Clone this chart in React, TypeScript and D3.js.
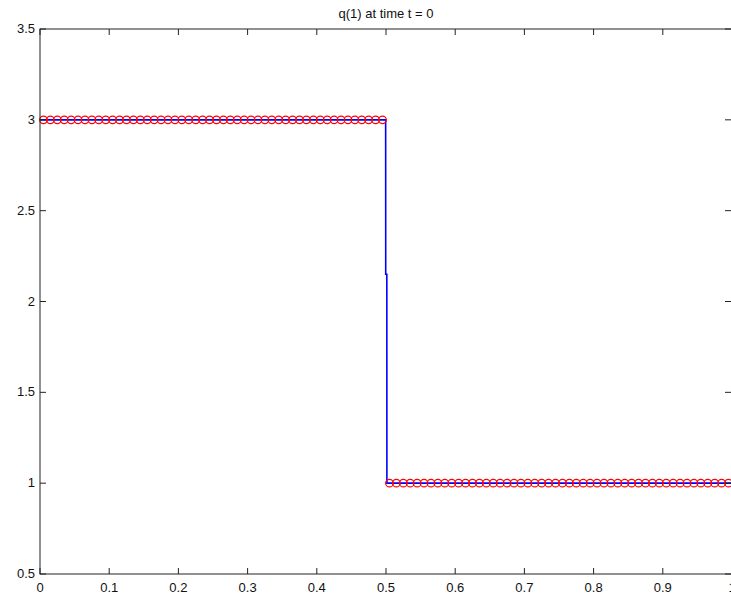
import React from "react";
import * as d3 from "d3";

// Cell-average values q(1) at t = 0 (100 cells on [0,1])
const qValues: number[] = [
  3, 3, 3, 3, 3, 3, 3, 3, 3, 3,
  3, 3, 3, 3, 3, 3, 3, 3, 3, 3,
  3, 3, 3, 3, 3, 3, 3, 3, 3, 3,
  3, 3, 3, 3, 3, 3, 3, 3, 3, 3,
  3, 3, 3, 3, 3, 3, 3, 3, 3, 3,
  1, 1, 1, 1, 1, 1, 1, 1, 1, 1,
  1, 1, 1, 1, 1, 1, 1, 1, 1, 1,
  1, 1, 1, 1, 1, 1, 1, 1, 1, 1,
  1, 1, 1, 1, 1, 1, 1, 1, 1, 1,
  1, 1, 1, 1, 1, 1, 1, 1, 1, 1,
];

// Fine-grid reference solution (blue line)
const lineX: number[] = [0, 0.4995, 0.4996, 0.5012, 0.5013, 1];
const lineY: number[] = [3, 3, 2.15, 2.15, 1, 1];

const xTicks: number[] = [0, 0.1, 0.2, 0.3, 0.4, 0.5, 0.6, 0.7, 0.8, 0.9, 1];
const yTicks: number[] = [0.5, 1, 1.5, 2, 2.5, 3, 3.5];
const titleText = "q(1)   at time t = 0";

const W = 731;
const H = 597;
const left = 40;
const right = 732;
const top = 29;
const bottom = 574;

export default function App() {
  const x = d3.scaleLinear().domain([0, 1]).range([left, right]);
  const y = d3.scaleLinear().domain([0.5, 3.5]).range([bottom, top]);
  const n = qValues.length;
  const cellX = qValues.map((_, i) => (i + 0.5) / n);

  const line = d3
    .line<number>()
    .x((_, i) => x(lineX[i]))
    .y((d) => y(d));

  const font = "'Liberation Sans', Arial, sans-serif";
  const tickLen = 6;

  return (
    <svg
      width={W}
      height={H}
      style={{ position: "absolute", left: 0, top: 0, background: "#fff" }}
    >
      <rect x={0} y={0} width={W} height={H} fill="#fff" />
      {/* data */}
      <path d={line(lineY) || ""} fill="none" stroke="#0000ff" strokeWidth={1.6} />
      {qValues.map((v, i) => (
        <circle
          key={i}
          cx={x(cellX[i])}
          cy={y(v)}
          r={3.8}
          fill="none"
          stroke="#ff0000"
          strokeWidth={1.2}
        />
      ))}
      {/* box */}
      <rect
        x={left}
        y={top}
        width={right - left}
        height={bottom - top}
        fill="none"
        stroke="#222"
        strokeWidth={1}
      />
      {/* x ticks */}
      {xTicks.map((t) => (
        <g key={"x" + t}>
          <line x1={x(t)} x2={x(t)} y1={bottom} y2={bottom - tickLen} stroke="#222" />
          <line x1={x(t)} x2={x(t)} y1={top} y2={top + tickLen} stroke="#222" />
          <text
            x={x(t)}
            y={592}
            textAnchor="middle"
            fontFamily={font}
            fontSize={13}
            fill="#111"
          >
            {String(t)}
          </text>
        </g>
      ))}
      {/* y ticks */}
      {yTicks.map((t) => (
        <g key={"y" + t}>
          <line x1={left} x2={left + tickLen} y1={y(t)} y2={y(t)} stroke="#222" />
          <line x1={right - 7} x2={right} y1={y(t)} y2={y(t)} stroke="#222" />
          <text
            x={35}
            y={y(t) + 4}
            textAnchor="end"
            fontFamily={font}
            fontSize={13}
            fill="#111"
          >
            {String(t)}
          </text>
        </g>
      ))}
      <text
        x={386}
        y={18}
        textAnchor="middle"
        fontFamily={font}
        fontSize={13}
        fill="#111"
      >
        {titleText}
      </text>
    </svg>
  );
}
